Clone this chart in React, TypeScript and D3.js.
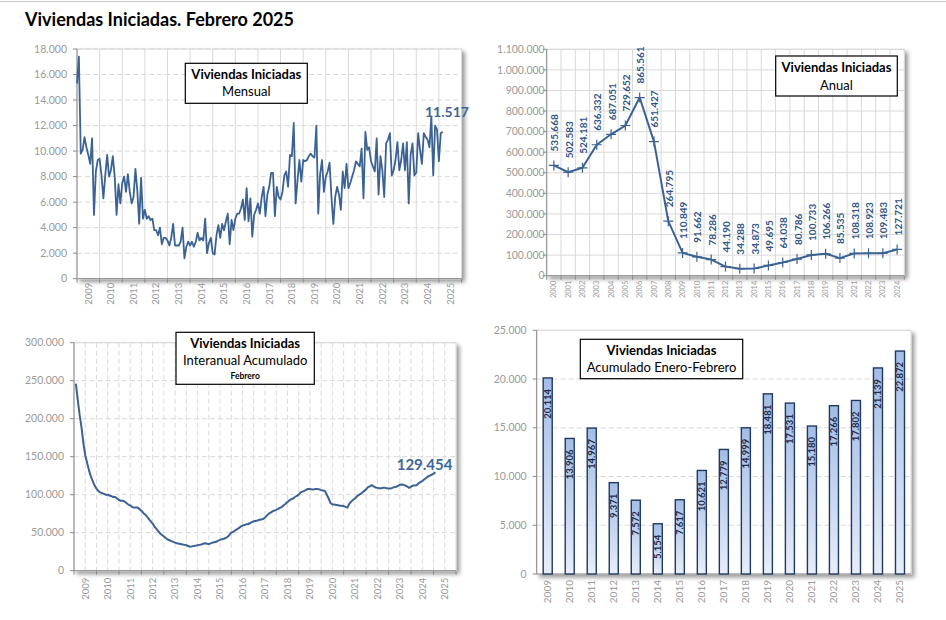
import React from 'react';
import * as d3 from 'd3';

// ---------- DATA ----------
const titleText = 'Viviendas Iniciadas. Febrero 2025';

// Monthly starts (thousands), Jan 2009 .. Feb 2025
const monthlyK = [
  15.3, 17.4, 9.8, 10.1, 11.1, 10.3, 9.7, 9.0, 11.0, 5.0, 8.4, 9.3,
  9.4, 8.1, 6.3, 8.1, 9.7, 8.0, 8.5, 9.6, 8.0, 5.0, 7.4, 5.9,
  7.5, 8.0, 6.8, 8.2, 6.8, 5.9, 6.4, 8.6, 6.9, 4.3, 7.9, 4.7,
  5.4, 4.7, 4.9, 4.6, 4.7, 3.8, 3.8, 3.4, 4.0, 2.7, 3.2, 3.2,
  3.0, 2.6, 3.2, 4.3, 2.6, 2.6, 2.6, 2.9, 4.0, 1.6, 2.5, 2.9,
  2.6, 2.9, 2.5, 2.9, 3.6, 3.0, 3.2, 3.0, 4.7, 2.0, 2.8, 3.2,
  2.0, 1.9, 3.4, 4.2, 3.2, 4.3, 3.8, 4.5, 5.1, 2.7, 4.6, 3.8,
  4.7, 5.1, 5.1, 5.5, 6.2, 4.6, 7.1, 4.5, 6.3, 3.3, 5.0, 5.4,
  5.9, 5.1, 6.4, 7.2, 4.9, 6.6, 7.2, 8.3, 8.3, 4.9, 7.2, 6.4,
  6.2, 6.8, 8.1, 8.4, 7.2, 9.7, 9.6, 12.2, 5.9, 7.7, 9.3, 7.6,
  9.3, 9.2, 9.3, 9.6, 9.8, 9.6, 9.5, 12.0, 5.1, 8.2, 9.3, 6.8,
  8.0, 8.4, 9.1, 6.4, 4.3, 6.4, 7.2, 6.6, 5.4, 8.4, 7.1, 9.0,
  7.1, 7.5, 8.0, 8.5, 9.2, 9.0, 8.8, 10.2, 6.3, 11.5, 10.1, 10.3,
  9.2, 8.8, 8.4, 11.0, 6.6, 9.6, 8.5, 6.4, 10.6, 10.9, 11.4, 8.1,
  8.5, 9.3, 10.7, 8.5, 9.3, 10.6, 8.5, 10.7, 5.9, 9.7, 10.6, 8.1,
  8.3, 11.4, 10.1, 9.0, 11.4, 11.1, 10.9, 10.3, 12.7, 8.1, 12.0, 11.7,
  9.2, 11.4, 11.517,
];
const monthlyLastLabel = '11.517';

// Rolling 12-month sum (thousands), Feb 2009 .. Feb 2025
const interanualK = [
  246, 225, 205, 189, 168, 152, 142, 132, 124, 118, 112, 108,
  105, 103, 102, 101, 100, 100, 99, 98, 97, 97, 95, 93,
  92, 92, 91, 89, 87, 86, 84, 83, 83, 83, 81, 79,
  76, 74, 71, 68, 65, 62, 58, 55, 52, 49, 47, 45,
  43, 41, 40, 39, 38, 37, 36, 35.5, 35, 34.5, 34, 33.5,
  32.5, 31.5, 32, 32.5, 33, 33.5, 34, 34.5, 35.5, 36, 35.5, 35,
  36, 37, 37.5, 38, 39.5, 40.5, 41.5, 42, 43, 44.5, 47, 50,
  51, 53, 54.5, 56, 58, 59.5, 60, 61, 61.5, 62.5, 64, 65,
  65.5, 66, 67, 67.5, 68, 70, 72.5, 75, 76.5, 78, 79, 80,
  81.5, 82.5, 84, 86, 88, 90.5, 92.5, 94, 95, 97, 98.5, 100,
  103, 104, 105, 106.5, 107.5, 107.5, 107, 107, 107.5, 107.5, 107, 106,
  105.5, 105, 100, 95, 89, 87, 87, 86.5, 86, 85.5, 85.5, 85,
  84, 83, 88, 91, 93, 95, 97.5, 99.5, 101, 103, 105, 107,
  110, 111, 112.5, 111, 109.5, 109, 108.5, 108.5, 109, 109, 108.5, 108,
  108, 109, 110, 110.5, 111.5, 113, 113.5, 113, 112, 110.5, 109, 110.5,
  112, 112, 112.5, 115, 116.5, 118, 120, 122, 124, 125, 126.5, 127.5,
  129.454,
];
const interanualLastLabel = '129.454';

const annualYears = ['2000', '2001', '2002', '2003', '2004', '2005', '2006', '2007', '2008', '2009', '2010', '2011', '2012', '2013', '2014', '2015', '2016', '2017', '2018', '2019', '2020', '2021', '2022', '2023', '2024'];
const annualValues = [535668, 502583, 524181, 636332, 687051, 729652, 865561, 651427, 264795, 110849, 91662, 78286, 44190, 34288, 34873, 49695, 64038, 80786, 100733, 106266, 85535, 108318, 108923, 109483, 127721];

const barYears = ['2009', '2010', '2011', '2012', '2013', '2014', '2015', '2016', '2017', '2018', '2019', '2020', '2021', '2022', '2023', '2024', '2025'];
const barValues = [20114, 13906, 14967, 9371, 7572, 5154, 7617, 10621, 12779, 14999, 18481, 17531, 15180, 17266, 17802, 21139, 22872];

const yearLabels = ['2009', '2010', '2011', '2012', '2013', '2014', '2015', '2016', '2017', '2018', '2019', '2020', '2021', '2022', '2023', '2024', '2025'];

const monthlyTicks = [0, 2000, 4000, 6000, 8000, 10000, 12000, 14000, 16000, 18000];
const annualTicks = [0, 100000, 200000, 300000, 400000, 500000, 600000, 700000, 800000, 900000, 1000000, 1100000];
const interanualTicks = [0, 50000, 100000, 150000, 200000, 250000, 300000];
const barTicks = [0, 5000, 10000, 15000, 20000, 25000];

// ---------- STYLE ----------
const FONT = "Lato, 'Open Sans', sans-serif";
const LINE = '#3b6293';
const TICK = '#9a9a9a';
const GRID = '#d9d9d9';
const AXIS = '#8a8a8a';

const es = d3.formatLocale({ decimal: ',', thousands: '.', grouping: [3], currency: ['', ''] });
const fmt = es.format(',');

function PlotBg({ x0, x1, y0, y1 }: { x0: number; x1: number; y0: number; y1: number }) {
  return (
    <rect x={x0} y={y0} width={x1 - x0} height={y1 - y0} fill="#fff" stroke="#d6d6d6" strokeWidth={1} filter="url(#shadow)" />
  );
}

function Box({ x, y, w, h, lines }: { x: number; y: number; w: number; h: number; lines: { t: string; y: number; bold?: boolean; size: number }[] }) {
  return (
    <g>
      <rect x={x} y={y} width={w} height={h} fill="#fff" stroke="#000" strokeWidth={1.2} />
      {lines.map((l, i) => (
        <text key={i} x={x + w / 2} y={l.y} textAnchor="middle" fontFamily={FONT} fontSize={l.size} fontWeight={l.bold ? 700 : 400} fill="#000">{l.t}</text>
      ))}
    </g>
  );
}

function MonthlyPanel() {
  const X0 = 77, X1 = 461.5, Y0 = 49, Y1 = 278.7;
  const x = d3.scaleLinear().domain([2009, 2026]).range([X0, X1]);
  const y = d3.scaleLinear().domain([0, 18000]).range([Y1, Y0]);
  const line = d3.line<number>().x((_, i) => x(2009 + i / 12)).y((d) => y(d * 1000));
  const bounds = d3.range(2009, 2027);
  return (
    <g>
      <PlotBg x0={X0} x1={X1} y0={Y0} y1={Y1} />
      {monthlyTicks.slice(1).map((t) => (
        <line key={'h' + t} x1={X0} x2={X1} y1={y(t)} y2={y(t)} stroke={GRID} strokeDasharray="5,3" />
      ))}
      {bounds.slice(1).map((b) => (
        <line key={'v' + b} x1={x(b)} x2={x(b)} y1={Y0} y2={Y1} stroke={GRID} />
      ))}
      <line x1={X0} x2={X0} y1={Y0} y2={Y1} stroke={AXIS} />
      <line x1={X0} x2={X1} y1={Y1} y2={Y1} stroke={AXIS} />
      {monthlyTicks.map((t) => (
        <g key={'yt' + t}>
          <line x1={X0 - 4} x2={X0} y1={y(t)} y2={y(t)} stroke={AXIS} />
          <text x={X0 - 10} y={y(t)} dy="0.35em" textAnchor="end" fontFamily={FONT} fontSize={10.5} fill={TICK}>{fmt(t)}</text>
        </g>
      ))}
      {bounds.map((b) => (
        <line key={'xt' + b} x1={x(b)} x2={x(b)} y1={Y1} y2={Y1 + 4} stroke={AXIS} />
      ))}
      {yearLabels.map((l, i) => (
        <text key={'xl' + l} transform={`translate(${x(2009 + i + 0.5)},${Y1 + 4}) rotate(-90)`} dy="0.35em" textAnchor="end" fontFamily={FONT} fontSize={9.5} fill={TICK}>{l}</text>
      ))}
      <path d={line(monthlyK) || ''} fill="none" stroke={LINE} strokeWidth={1.8} strokeLinejoin="round" />
      <text x={425} y={117} fontFamily={FONT} fontSize={14} fontWeight={700} fill="#3e6797">{monthlyLastLabel}</text>
      <Box x={185.3} y={63.3} w={122} h={40} lines={[
        { t: 'Viviendas Iniciadas', y: 78.6, bold: true, size: 13 },
        { t: 'Mensual', y: 96.3, size: 13 },
      ]} />
    </g>
  );
}

function AnnualPanel() {
  const X0 = 546.7, X1 = 904.3, Y0 = 49.3, Y1 = 275.7;
  const x = d3.scaleBand<string>().domain(annualYears).range([X0, X1]);
  const y = d3.scaleLinear().domain([0, 1100000]).range([Y1, Y0]);
  const cx = (k: string) => (x(k) as number) + x.bandwidth() / 2;
  const line = d3.line<number>().x((_, i) => cx(annualYears[i])).y((d) => y(d));
  return (
    <g>
      <PlotBg x0={X0} x1={X1} y0={Y0} y1={Y1} />
      {annualTicks.slice(1).map((t) => (
        <line key={'h' + t} x1={X0} x2={X1} y1={y(t)} y2={y(t)} stroke={GRID} />
      ))}
      {annualYears.slice(1).map((k) => (
        <line key={'v' + k} x1={x(k)} x2={x(k)} y1={Y0} y2={Y1} stroke={GRID} />
      ))}
      <line x1={X0} x2={X0} y1={Y0} y2={Y1} stroke={AXIS} />
      <line x1={X0} x2={X1} y1={Y1} y2={Y1} stroke={AXIS} />
      {annualTicks.map((t) => (
        <g key={'yt' + t}>
          <line x1={X0 - 4} x2={X0} y1={y(t)} y2={y(t)} stroke={AXIS} />
          <text x={X0 - 2} y={y(t)} dy="0.35em" textAnchor="end" fontFamily={FONT} fontSize={10.5} fill={TICK}>{fmt(t)}</text>
        </g>
      ))}
      {annualYears.map((k) => (
        <line key={'xt' + k} x1={x(k)} x2={x(k)} y1={Y1} y2={Y1 + 4} stroke={AXIS} />
      ))}
      <line x1={X1} x2={X1} y1={Y1} y2={Y1 + 4} stroke={AXIS} />
      {annualYears.map((k) => (
        <text key={'xl' + k} transform={`translate(${cx(k)},${Y1 + 5}) rotate(-90)`} dy="0.35em" textAnchor="end" fontFamily={FONT} fontSize={7.5} fill={TICK}>{k}</text>
      ))}
      <path d={line(annualValues) || ''} fill="none" stroke={LINE} strokeWidth={2} strokeLinejoin="round" />
      {annualValues.map((v, i) => {
        const px = cx(annualYears[i]);
        const py = y(v);
        return (
          <g key={'m' + i}>
            <path d={`M${px - 5},${py}H${px + 5}M${px},${py - 5}V${py + 5}`} stroke={LINE} strokeWidth={1.2} />
            <text transform={`translate(${px + 1},${py - 14}) rotate(-90)`} dy="0.35em" textAnchor="start" fontFamily={FONT} fontSize={10} fontWeight={700} fill="#2f5383">{fmt(v)}</text>
          </g>
        );
      })}
      <Box x={775.7} y={56} w={121.6} h={40} lines={[
        { t: 'Viviendas Iniciadas', y: 72, bold: true, size: 13 },
        { t: 'Anual', y: 89.6, size: 13 },
      ]} />
    </g>
  );
}

function InteranualPanel() {
  const X0 = 74, X1 = 456, Y0 = 342.7, Y1 = 570.7;
  const x = d3.scaleLinear().domain([2009, 2026]).range([X0, X1]);
  const y = d3.scaleLinear().domain([0, 300000]).range([Y1, Y0]);
  const line = d3.line<number>().x((_, i) => x(2009 + (i + 1) / 12)).y((d) => y(d * 1000));
  const half = d3.range(2009.5, 2026, 0.5);
  const bounds = d3.range(2009, 2027);
  return (
    <g>
      <PlotBg x0={X0} x1={X1} y0={Y0} y1={Y1} />
      {interanualTicks.slice(1).map((t) => (
        <line key={'h' + t} x1={X0} x2={X1} y1={y(t)} y2={y(t)} stroke={GRID} strokeDasharray="5,3" />
      ))}
      {half.map((b) => (
        <line key={'v' + b} x1={x(b)} x2={x(b)} y1={Y0} y2={Y1} stroke={GRID} strokeDasharray="5,3" />
      ))}
      <line x1={X0} x2={X0} y1={Y0} y2={Y1} stroke={AXIS} />
      <line x1={X0} x2={X1} y1={Y1} y2={Y1} stroke={AXIS} />
      {interanualTicks.map((t) => (
        <g key={'yt' + t}>
          <line x1={X0 - 4} x2={X0} y1={y(t)} y2={y(t)} stroke={AXIS} />
          <text x={X0 - 10} y={y(t)} dy="0.35em" textAnchor="end" fontFamily={FONT} fontSize={10.5} fill={TICK}>{fmt(t)}</text>
        </g>
      ))}
      {bounds.map((b) => (
        <line key={'xt' + b} x1={x(b)} x2={x(b)} y1={Y1} y2={Y1 + 4} stroke={AXIS} />
      ))}
      {yearLabels.map((l, i) => (
        <text key={'xl' + l} transform={`translate(${x(2009 + i + 0.5)},${Y1 + 7}) rotate(-90)`} dy="0.35em" textAnchor="end" fontFamily={FONT} fontSize={9.5} fill={TICK}>{l}</text>
      ))}
      <path d={line(interanualK) || ''} fill="none" stroke={LINE} strokeWidth={2} strokeLinejoin="round" />
      <text x={396.7} y={470} fontFamily={FONT} fontSize={15} fontWeight={700} fill="#3e6797">{interanualLastLabel}</text>
      <Box x={176} y={332.3} w={138.3} h={52} lines={[
        { t: 'Viviendas Iniciadas', y: 348.3, bold: true, size: 13 },
        { t: 'Interanual Acumulado', y: 365.3, size: 13 },
        { t: 'Febrero', y: 378.8, bold: true, size: 8.5 },
      ]} />
    </g>
  );
}

function BarPanel() {
  const X0 = 536.7, X1 = 911, Y0 = 330.3, Y1 = 574;
  const x = d3.scaleBand<string>().domain(barYears).range([X0, X1]).paddingInner(0.59).paddingOuter(0.295);
  const y = d3.scaleLinear().domain([0, 25000]).range([Y1, Y0]);
  return (
    <g>
      <PlotBg x0={X0} x1={X1} y0={Y0} y1={Y1} />
      {barTicks.slice(1).map((t) => (
        <line key={'h' + t} x1={X0} x2={X1} y1={y(t)} y2={y(t)} stroke={GRID} strokeDasharray="5,3" />
      ))}
      <line x1={X0} x2={X0} y1={Y0} y2={Y1} stroke={AXIS} />
      <line x1={X0} x2={X1} y1={Y1} y2={Y1} stroke={AXIS} />
      {barTicks.map((t) => (
        <g key={'yt' + t}>
          <line x1={X0 - 4} x2={X0} y1={y(t)} y2={y(t)} stroke={AXIS} />
          <text x={X0 - 10} y={y(t)} dy="0.35em" textAnchor="end" fontFamily={FONT} fontSize={10.5} fill={TICK}>{fmt(t)}</text>
        </g>
      ))}
      {barYears.map((k, i) => {
        const bx = x(k) as number;
        const top = y(barValues[i]);
        const c = bx + x.bandwidth() / 2;
        return (
          <g key={'b' + k}>
            <rect x={bx} y={top} width={x.bandwidth()} height={Y1 - top} fill="url(#barGrad)" stroke="#1f3a5f" strokeWidth={1.4} />
            <text transform={`translate(${c},${top + 11}) rotate(-90)`} dy="0.35em" textAnchor="end" fontFamily={FONT} fontSize={9.5} fontWeight={700} fill="#1f2d4a">{fmt(barValues[i])}</text>
            <text transform={`translate(${c},${Y1 + 6}) rotate(-90)`} dy="0.35em" textAnchor="end" fontFamily={FONT} fontSize={10} fill={TICK}>{k}</text>
          </g>
        );
      })}
      <Box x={580.3} y={339.3} w={162.4} h={39.4} lines={[
        { t: 'Viviendas Iniciadas', y: 355.3, bold: true, size: 13 },
        { t: 'Acumulado Enero-Febrero', y: 372, size: 13 },
      ]} />
    </g>
  );
}

export default function App() {
  return (
    <svg width={946} height={620} style={{ position: 'absolute', left: 0, top: 0, background: '#fff' }}>
      <defs>
        <filter id="shadow" x="-5%" y="-5%" width="115%" height="115%">
          <feDropShadow dx={3} dy={3} stdDeviation={2} floodColor="#000" floodOpacity={0.4} />
        </filter>
        <linearGradient id="barGrad" x1="0" y1="0" x2="0" y2="1">
          <stop offset="0%" stopColor="#a4bde6" />
          <stop offset="100%" stopColor="#e8edf8" />
        </linearGradient>
      </defs>
      <rect x={0} y={0} width={946} height={620} fill="#fff" />
      <line x1={0} x2={946} y1={1.5} y2={1.5} stroke="#c8c8c8" />
      <text x={25} y={26} fontFamily={FONT} fontSize={18} fontWeight={700} fill="#000">{titleText}</text>
      <MonthlyPanel />
      <AnnualPanel />
      <InteranualPanel />
      <BarPanel />
    </svg>
  );
}
